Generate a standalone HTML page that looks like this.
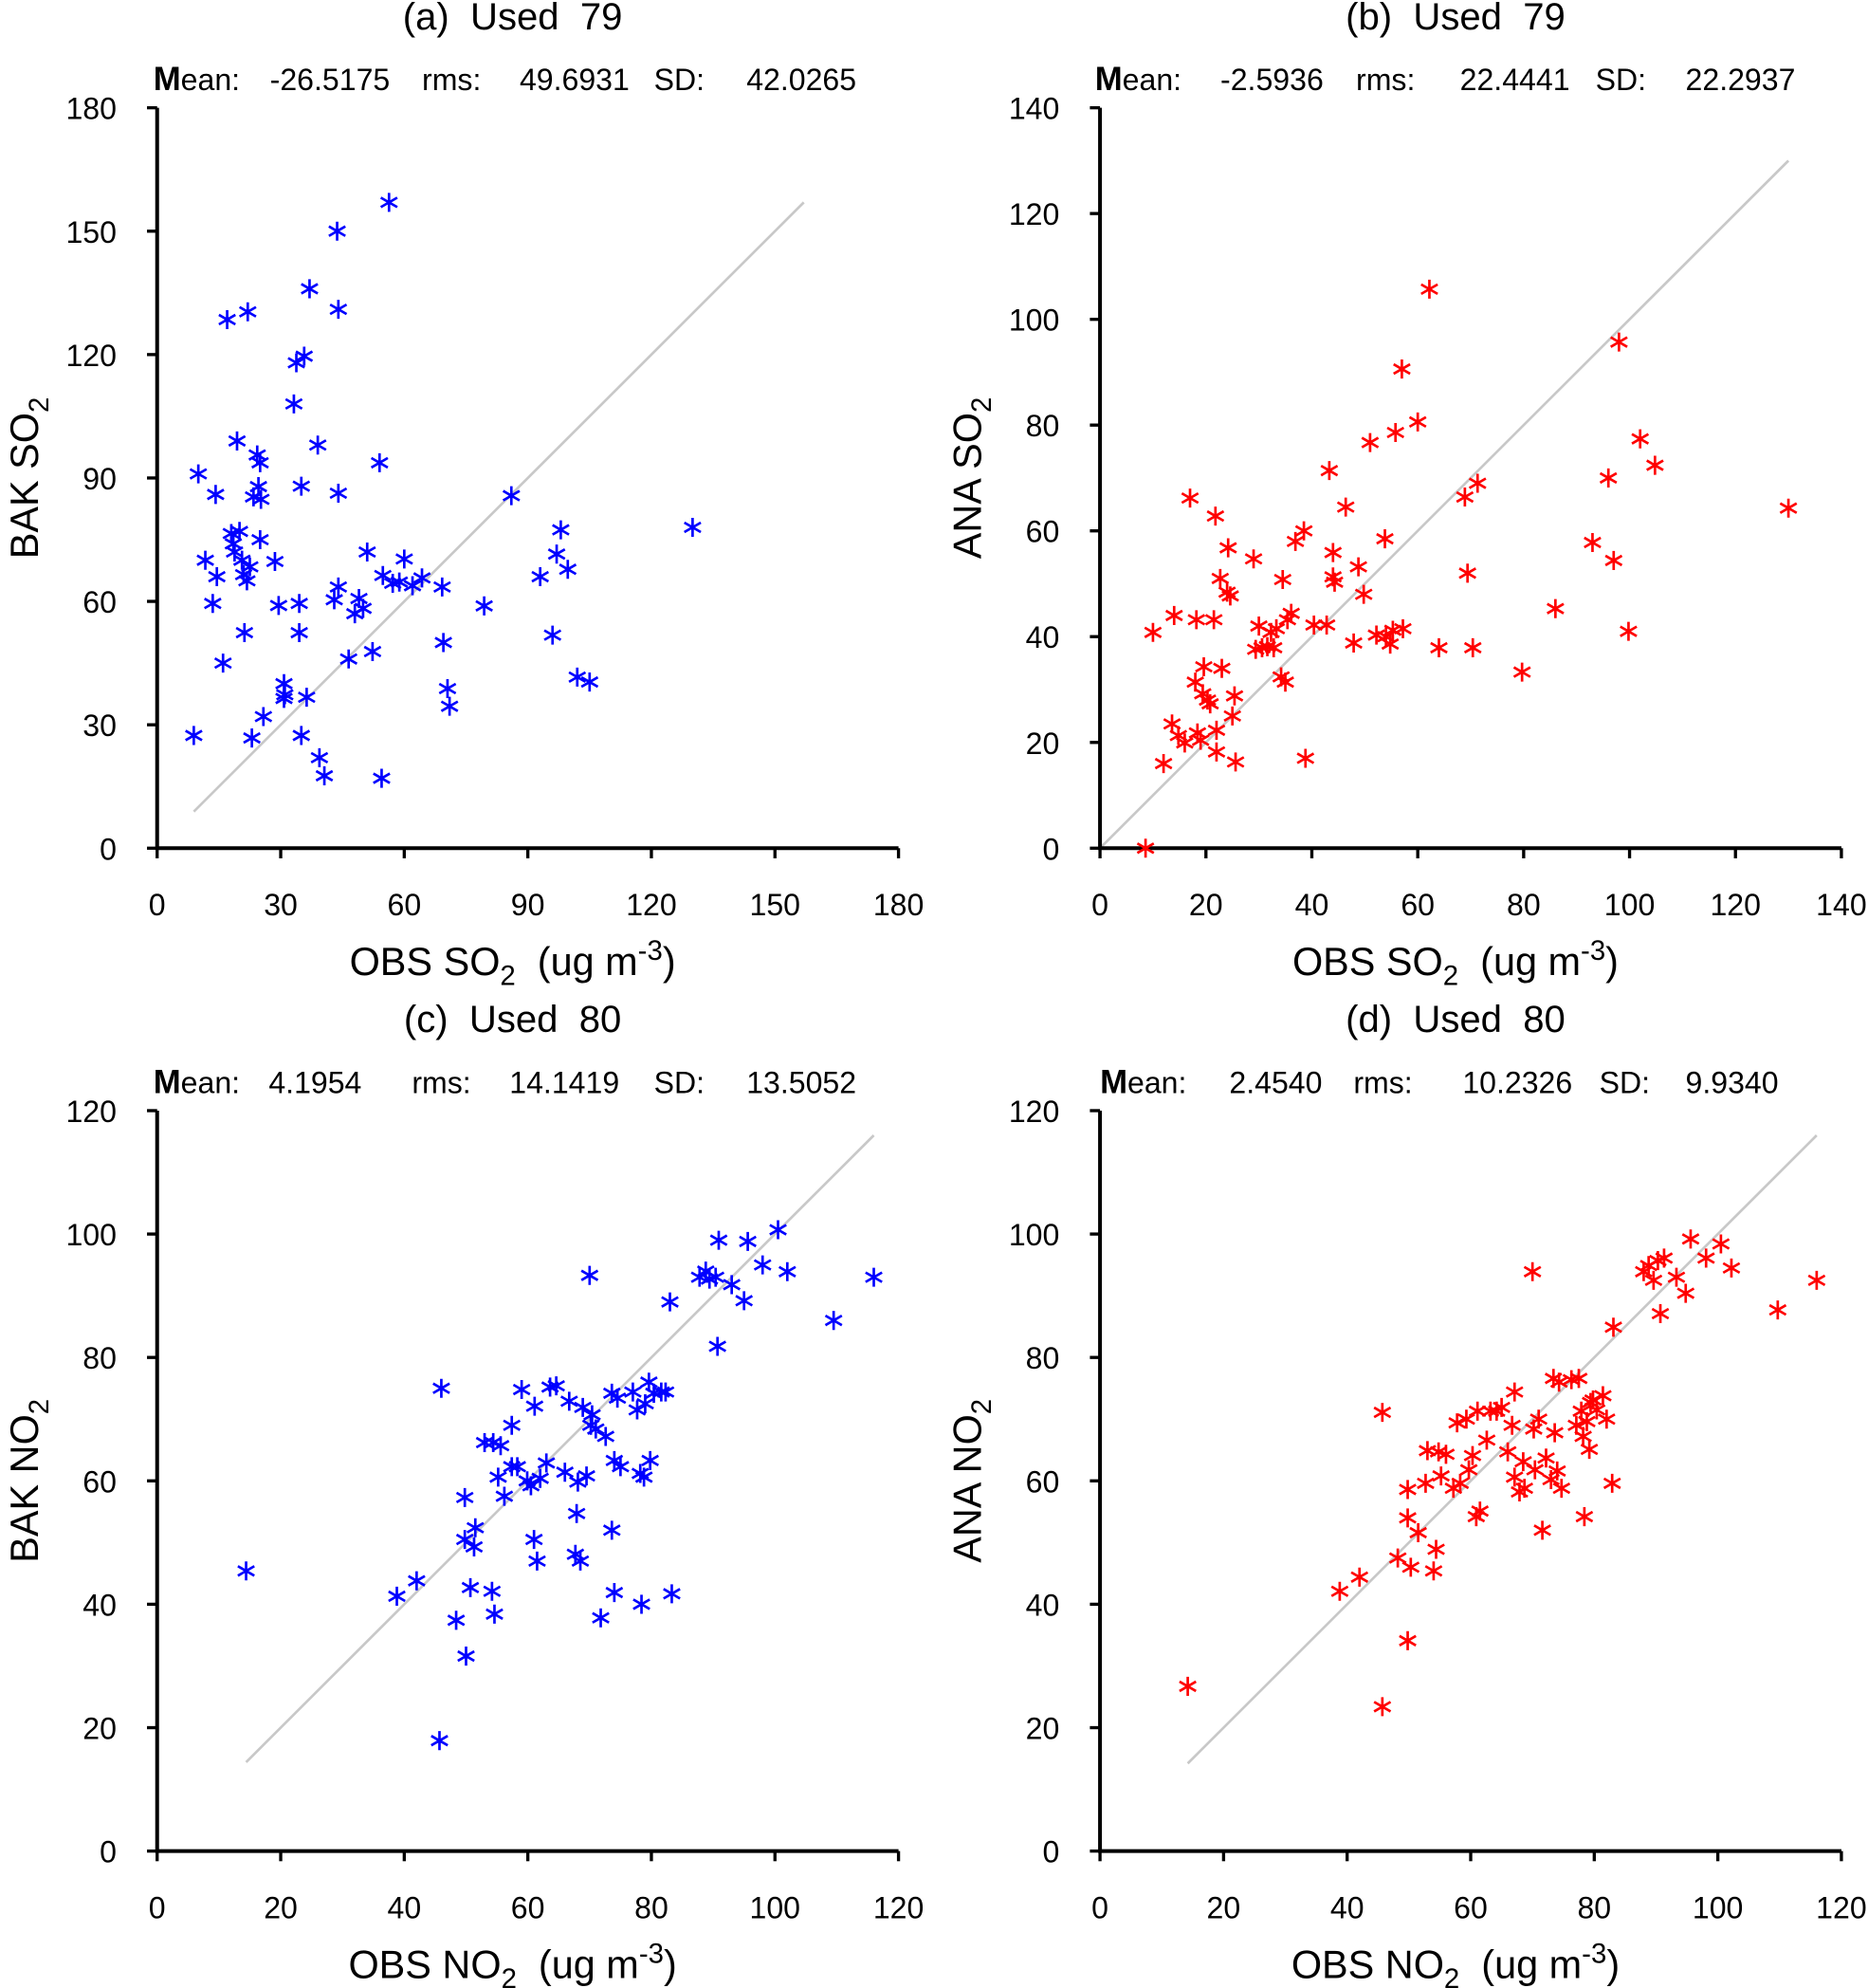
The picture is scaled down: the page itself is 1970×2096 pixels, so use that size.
<!DOCTYPE html>
<html><head><meta charset="utf-8"><style>
html,body{margin:0;padding:0;background:#fff}
svg{display:block}
text{font-family:"Liberation Sans",sans-serif;fill:#000;white-space:pre}
</style></head><body>
<svg id="chart" width="1970" height="2096" viewBox="0 0 1474 1568" preserveAspectRatio="none" xmlns="http://www.w3.org/2000/svg" xml:space="preserve"></svg>
<script>
const aObs=[8.9,10,11.7,13.5,14.2,14.5,16,17,18,18.5,18.8,19.4,20,20.6,21,21.2,21.8,22,22.5,23,23.4,24.3,24.6,25,25,25.2,25.8,28.6,29.5,30.8,31,30.8,33.2,33.8,34.5,34.5,35,35,35.7,36.3,37,39,39.4,40.6,43,43.7,44,44,44,46.5,48,49,50,51,52.3,54,54.5,54.8,56.3,57.2,58.8,60,62,64.3,69.2,69.5,70.5,71,79.4,86,93,96,97,98,99.7,102,105,130];
const aMod=[27.4,91,70,59.5,86,66,45,128.5,76.5,74,72,99,77,70,66.5,52.4,65,130.4,68.4,26.8,85.4,95.6,87.9,75,93.7,84.8,32,69.7,59,40,37.3,36.4,108,118,59.5,52.4,27.4,88,119.6,36.7,136,98,22,17.6,60.4,150,63.5,131,86.3,46,57,60.7,58.3,72,47.8,93.7,17,66.3,157,64.4,64.7,70.3,63.8,65.7,63.5,50,38.8,34.5,58.9,85.7,66,51.8,71.5,77.4,67.8,41.6,40.4,78];
const bObs=[8.6,10,12,13.6,14,14.8,16,17,18,18.2,18.4,19,19.4,19.6,20.3,20.8,21.5,21.8,22,22,22.7,23,24,24.2,24.6,25,25.4,25.6,29,29.4,30,30.6,31.6,32.3,32.8,33.3,34.2,34.5,35,35.4,36.1,36.9,38.5,38.8,40.4,42.8,43.3,44,44,44.3,46.4,47.9,48.8,49.8,51,52.2,53.8,54,54.8,55.3,55.8,57,57.2,60,64,68.9,69.4,70.4,71.3,79.7,86,93,96,97,98,99.8,102,104.8,130,62.2];
const bMod=[0,40.8,16,23.5,44,21.3,19.9,66.2,31.4,43.2,21.8,20.4,29.2,34.3,28,27.3,43.2,62.8,18.2,22.3,51,34,48.4,56.8,47.7,25,28.8,16.3,54.7,37.6,42,37.9,38.1,40.8,37.9,41.5,32.4,50.8,31.4,43.2,44.4,58,60,17,42.2,42.2,71.4,55.9,51.3,50.3,64.5,38.8,53.2,48,76.7,40.3,58.5,40,38.6,41.2,78.6,90.6,41.5,80.6,37.9,66.4,52,37.9,69,33.3,45.3,57.8,70,54.4,95.7,41,77.4,72.4,64.3,105.7];
const cObs=[14.4,38.8,42,46,45.7,48.4,49.8,49.8,50,50.7,51.3,51.5,53,54.2,54.4,54.6,55.2,55.6,56.2,57.4,57.4,58.3,59,59.9,60.5,61,61.1,61.5,62,63,63.6,64.6,66,66.7,67.7,67.9,68.1,68.5,68.9,69.5,70,70.2,70.4,71,71.8,72.6,73.6,73.6,74,74,74.5,75,77,77.7,78.2,78.4,78.8,79,79.6,79.8,80.4,81.6,82.3,83,83.3,87.8,88.8,89.4,90.4,90.7,90.9,93,95,95.6,98,100.5,102,109.5,116];
const cMod=[45.4,41.3,43.8,75,17.9,37.4,57.3,50.5,31.6,42.7,49.3,52.4,66.2,42.1,66.2,38.4,60.6,65.7,57.5,69,62.3,62.3,74.8,60,59.2,50.5,72.1,47,60.4,62.9,75.2,75.4,61.4,72.9,48.1,54.7,59.8,47,71.9,60.8,93.3,69,70.7,68.4,37.8,67.2,74.2,52,41.9,63.3,73.4,62.3,74.4,71.5,61.2,40,60.6,72.5,76,63.3,74.2,74.4,74.4,89,41.7,93,94,92.7,93,81.8,99,91.8,89.2,98.8,95,100.7,93.9,86,93];
const dObs=[14.2,38.8,42,45.7,45.7,48.2,49.8,49.8,49.8,50.3,51.5,52.7,53,54,54.4,54.8,55.2,56,57.2,57.8,58.3,59.3,59.7,60.3,60.9,61.1,61.5,62.6,63.2,64.2,65,66,66.7,67.1,67.1,67.9,68.5,68.7,70,70.2,70.4,71,71.6,72.2,73,73.4,73.6,74,74.3,74.7,76.3,77.1,77.5,77.9,78.2,78.4,78.8,79.2,79.4,79.8,80.4,81.4,82,82.9,83.1,88,88.8,89.6,90.3,90.7,91.3,93.3,94.8,95.6,98.1,100.5,102.2,109.7,116];
const dMod=[26.7,42.1,44.4,71.1,23.4,47.5,58.6,54,34.1,46,51.6,59.6,64.9,45.4,48.9,64.7,60.8,64.3,58.8,69.4,59.6,70,61.8,64.1,54.2,71.3,55.1,66.6,71.3,71.3,71.9,64.7,69,74.4,60.6,58.2,63.1,58.8,93.9,68.4,61.8,70,52,63.7,60.2,76.6,67.8,61.6,76,58.8,76.4,69,76.6,71.3,67.2,54.2,69.6,65.1,72.7,73.1,71.5,73.8,70,59.6,84.9,93.9,94.9,92.5,95.7,87.1,96.1,93,90.4,99.2,96.1,98.4,94.5,87.7,92.5];
const panelTitles=["(a)  Used  79","(b)  Used  79","(c)  Used  80","(d)  Used  80"];
const statVals=[["-26.5175","49.6931","42.0265"],["-2.5936","22.4441","22.2937"],["4.1954","14.1419","13.5052"],["2.4540","10.2326","9.9340"]];
const axisMax=[180,140,120,120];
const tickStep=[30,20,20,20];
const yNames=["BAK SO","ANA SO","BAK NO","ANA NO"];
const xNames=["OBS SO","OBS SO","OBS NO","OBS NO"];

const NS="http://www.w3.org/2000/svg";
const svg=document.getElementById('chart');
function mk(tag,attrs,parent){const e=document.createElementNS(NS,tag);for(const k in attrs)e.setAttribute(k,attrs[k]);(parent||svg).appendChild(e);return e;}
const panels=[
 {x0:124,y0:669,obs:aObs,mod:aMod,col:"#0000ff",statX:[121,213,333,410,516,589]},
 {x0:868,y0:669,obs:bObs,mod:bMod,col:"#ff0000",statX:[864,963,1070,1152,1259,1330]},
 {x0:124,y0:1460,obs:cObs,mod:cMod,col:"#0000ff",statX:[121,212,325,402,516,589]},
 {x0:868,y0:1460,obs:dObs,mod:dMod,col:"#ff0000",statX:[868,970,1068,1154,1262,1330]}];
const W=585,H=584;
panels.forEach((p,i)=>{
 const g=mk('g',{});
 
 
 const mx=axisMax[i];
 const sx=v=>p.x0+v/mx*W, sy=v=>p.y0-v/mx*H;
 const cx=p.x0+W/2;
 const t=mk('text',{x:cx-12,y:p.y0-646,'font-size':30,'text-anchor':'middle'},g);t.textContent=panelTitles[i];
 
 const lbl=["Mean:",statVals[i][0],"rms:",statVals[i][1],"SD:",statVals[i][2]];
 lbl.forEach((s,j)=>{const e=mk('text',{x:p.statX[j],y:p.y0-598,'font-size':24},g);
  if(j==0){const b=mk('tspan',{'font-weight':'bold','font-size':26},e);b.textContent="M";const r=mk('tspan',{},e);r.textContent="ean:";}
  else e.textContent=s;
  });
 const all=p.obs.concat(p.mod);const lo=Math.min(...all),hi=Math.max(...all);
 const l=mk('line',{x1:sx(lo),y1:sy(lo),x2:sx(hi),y2:sy(hi),stroke:'#c8c8c8','stroke-width':2},g);
 
 const ax=mk('path',{d:`M${p.x0},${p.y0-H}V${p.y0}H${p.x0+W}`,fill:'none',stroke:'#000','stroke-width':3},g);
 
 for(let v=0;v<=mx;v+=tickStep[i]){
  mk('line',{x1:p.x0-8,y1:sy(v),x2:p.x0,y2:sy(v),stroke:'#000','stroke-width':2.5},g);
  mk('line',{x1:sx(v),y1:p.y0,x2:sx(v),y2:p.y0+8,stroke:'#000','stroke-width':2.5},g);
  const ty=mk('text',{x:p.x0-32,y:sy(v)+9,'font-size':24,'text-anchor':'end'},g);ty.textContent=v;
  
  const tx=mk('text',{x:sx(v),y:p.y0+53,'font-size':24,'text-anchor':'middle'},g);tx.textContent=v;
  
 }
 const xt=mk('text',{x:cx-12,y:p.y0+100,'font-size':31,'text-anchor':'middle'},g);
 
 xt.innerHTML=xNames[i]+'<tspan font-size="22" dy="8">2</tspan><tspan dy="-8">  (ug m</tspan><tspan font-size="22" dy="-12">-3</tspan><tspan dy="12">)</tspan>';
 const yt=mk('text',{x:0,y:0,'font-size':31,'text-anchor':'middle',transform:`translate(${p.x0-94},${p.y0-292}) rotate(-90)`},g);
 
 yt.innerHTML=yNames[i]+'<tspan font-size="22" dy="8">2</tspan>';
 const r=7.5;
 p.obs.forEach((o,k)=>{
  const X=sx(o),Y=sy(p.mod[k]);
  const c=Math.cos(Math.PI/6)*r,s=Math.sin(Math.PI/6)*r;
  const pt=mk('path',{d:`M${X},${Y-r}V${Y+r}M${X-c},${Y-s}L${X+c},${Y+s}M${X-c},${Y+s}L${X+c},${Y-s}`,stroke:p.col,'stroke-width':2,fill:'none'},g);
  
  
 });
});
</script>
</body></html>
